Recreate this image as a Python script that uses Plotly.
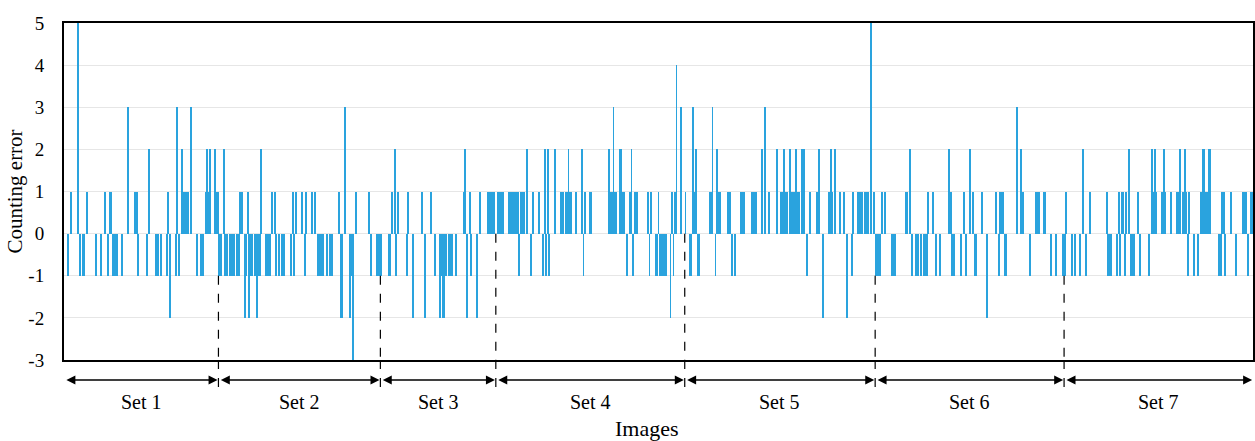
import plotly.graph_objects as go

set_names = ["Set 1", "Set 2", "Set 3", "Set 4", "Set 5", "Set 6", "Set 7"]

set1 = [0,0,-1,0,1,0,0,0,0,5,
        -1,0,-1,-1,0,1,0,0,0,0,
        0,-1,0,0,-1,0,0,1,0,-1,
        1,1,-1,-1,-1,-1,0,0,-1,0,
        0,0,3,0,0,0,0,1,1,-1,
        0,0,0,0,0,-1,2,0,0,0,
        0,-1,-1,0,-1,0,0,0,-1,1,
        -2,0,0,0,-1,3,-1,0,2,1,
        1,1,1,0,3,0,0,0,-1,0,
        0,-1,-1,0,1,2,1,2,0,0,
        2,1,1]

set2 = [-1,-1,0,2,-1,-1,0,-1,-1,-1,
        -1,0,-1,-1,1,1,0,-2,-1,1,
        -2,-1,-1,0,-1,-2,-1,-1,2,0,
        0,-1,-1,-1,-1,1,0,1,-1,0,
        -1,0,-1,-1,0,0,0,0,-1,1,
        -1,1,0,0,0,1,0,-1,1,0,
        0,0,1,0,1,0,-1,-1,-1,-1,
        0,0,-1,0,-1,-1,0,0,0,0,
        1,-2,-2,0,3,0,0,-2,-1,-3,
        0,1,0,0,0,0,0,0,0,0,
        1,-1,0,0,0,-1,-1,-1]

set3 = [-1,0,0,0,0,-1,-1,1,0,2,
        -1,1,0,0,0,0,0,-1,1,0,
        0,-2,0,0,0,0,0,1,0,-2,
        0,0,0,1,0,0,-1,0,0,-2,
        -1,-2,-2,-1,0,-1,-1,-1,0,0,
        -1,0,0,0,0,1,2,-2,0,1,
        -1,0,0,0,-2,0,1,0,0,0,
        0,1,1,1,1,1,0]

set4 = [0,1,1,1,1,0,0,0,1,1,
        1,1,1,1,1,-1,1,1,1,0,
        2,0,0,-1,1,0,0,0,1,0,
        0,-1,2,-1,2,-1,0,0,0,2,
        0,0,0,1,1,0,1,1,2,1,
        1,0,0,1,0,0,0,2,-1,1,
        0,0,1,1,0,0,0,0,0,0,
        0,0,0,0,0,2,1,1,3,1,
        1,0,2,2,1,1,0,-1,0,1,
        2,-1,1,1,1,0,0,0,0,0,
        0,1,-1,1,0,0,-1,-1,1,-1,
        -1,-1,-1,-1,0,0,-2,1,-1,1,
        4,0,0,3,0,0]

set5 = [1,0,0,-1,-1,3,1,2,-1,-1,
        0,0,0,0,0,0,1,1,3,0,
        -1,2,1,1,0,0,0,0,1,1,
        1,-1,0,-1,0,0,0,1,1,1,
        0,0,0,0,1,1,1,1,0,0,
        0,2,0,3,0,0,1,0,0,0,
        0,2,0,0,1,1,2,1,1,0,
        2,1,1,1,2,1,1,0,2,2,
        0,-1,0,1,0,0,0,0,1,2,
        0,0,-2,0,0,0,1,2,1,0,
        2,0,0,1,0,0,1,0,-2,0,
        0,-1,1,0,0,1,1,1,1,0,
        1,1,1,0,5,0,1]

set6 = [-1,-1,-1,-1,1,0,1,0,0,0,
        0,-1,-1,-1,0,0,0,0,0,0,
        1,1,0,2,-1,0,0,-1,-1,0,
        -1,0,-1,-1,-1,1,0,0,1,0,
        -1,0,0,-1,0,0,0,0,0,2,
        1,-1,-1,0,0,0,0,-1,0,1,
        -1,0,0,2,0,1,-1,-1,0,0,
        0,1,0,0,-2,0,0,0,0,0,
        1,0,-1,1,1,1,-1,-1,0,0,
        0,0,0,0,3,0,0,2,1,0,
        0,0,0,-1,0,0,0,1,1,1,
        0,0,1,1,0,0,0,-1,0,0,
        -1,0,0,0,0,-1]

set7 = [-1,1,0,0,0,-1,0,-1,0,0,
        -1,0,2,0,-1,0,0,1,0,0,
        0,0,0,0,0,0,0,0,1,-1,
        -1,-1,0,0,0,-1,1,-1,1,1,
        -1,1,0,2,-1,-1,-1,0,0,1,
        -1,0,0,0,0,0,-1,0,2,1,
        2,1,0,0,0,1,2,1,0,0,
        0,1,0,0,0,1,1,2,0,1,
        2,1,-1,1,0,0,-1,0,0,-1,
        0,1,2,2,1,1,2,2,0,0,
        0,0,0,-1,-1,1,1,-1,0,0,
        0,1,0,0,-1,0,0,0,0,1,
        1,1,-1,0,1,1]

sets = [set1, set2, set3, set4, set5, set6, set7]

y_tickvals = [5, 4, 3, 2, 1, 0, -1, -2, -3]
y_ticktext = ["5", "4", "3", "2", "1", "0", "-1", "-2", "-3"]

values = [v for s in sets for v in s]
n_total = len(values)
image_idx = list(range(n_total))

serif = "Liberation Serif, Times New Roman, serif"
bar_color = "#2AA3DE"

fig = go.Figure()
fig.add_trace(go.Bar(
    x=image_idx, y=values, width=0.62,
    marker=dict(color=bar_color, line=dict(width=0)),
    showlegend=False,
))

# set boundaries
bounds = [0]
for s in sets:
    bounds.append(bounds[-1] + len(s))

shapes = []
annotations = []
arrow_y = -0.059
for k in range(1, len(sets)):
    b = bounds[k]
    start_val = min(0, values[b - 1], values[b])
    shapes.append(dict(type="line", xref="x", yref="y", x0=b - 0.5, x1=b - 0.5,
                       y0=start_val, y1=-3, line=dict(color="black", width=1.2, dash="dash"), layer="above"))
    shapes.append(dict(type="line", xref="x", yref="paper", x0=b - 0.5, x1=b - 0.5,
                       y0=0, y1=-0.104, line=dict(color="black", width=1.2, dash="dash")))

for k, name in enumerate(set_names):
    x0 = bounds[k] - 0.5
    x1 = bounds[k + 1] - 0.5
    pad = 0.6
    annotations.append(dict(
        x=x1 - pad, y=arrow_y, xref="x", yref="paper",
        ax=x0 + pad, ay=0, axref="x", ayref="pixel",
        showarrow=True, arrowhead=2, startarrowhead=2, arrowside="end+start",
        arrowsize=1.2, startarrowsize=1.2, arrowwidth=1.5, arrowcolor="black", text="",
    ))
    annotations.append(dict(
        x=(x0 + x1) / 2, y=-0.125, xref="x", yref="paper", text=name,
        showarrow=False, font=dict(family=serif, size=20, color="black"), yanchor="middle",
    ))

annotations.append(dict(
    x=0.49, y=-0.203, xref="paper", yref="paper", text="Images", showarrow=False,
    font=dict(family=serif, size=22, color="black"), yanchor="middle",
))

fig.update_layout(
    width=1255, height=441,
    margin=dict(l=64, r=2, t=23, b=81, autoexpand=False),
    paper_bgcolor="white", plot_bgcolor="white",
    bargap=0,
    shapes=shapes, annotations=annotations,
    font=dict(family=serif, size=19, color="black"),
)
fig.update_xaxes(range=[-0.5, n_total - 0.5], showticklabels=False, showgrid=False,
                 zeroline=False, showline=True, mirror=True, linecolor="black", linewidth=2,
                 ticks="")
fig.update_yaxes(range=[-3, 5], tickvals=y_tickvals, ticktext=y_ticktext,
                 showgrid=True, gridcolor="#E6E6E6", gridwidth=1, zeroline=False,
                 showline=True, mirror=True, linecolor="black", linewidth=2,
                 ticks="", ticklabelstandoff=14,
                 tickfont=dict(family=serif, size=19, color="black"),
                 title=dict(text="Counting error", font=dict(family=serif, size=21, color="black"), standoff=0))

fig.write_html("out.html", config={"displayModeBar": False},
               post_script="document.body.style.margin='0px';document.body.style.overflow='hidden';")
